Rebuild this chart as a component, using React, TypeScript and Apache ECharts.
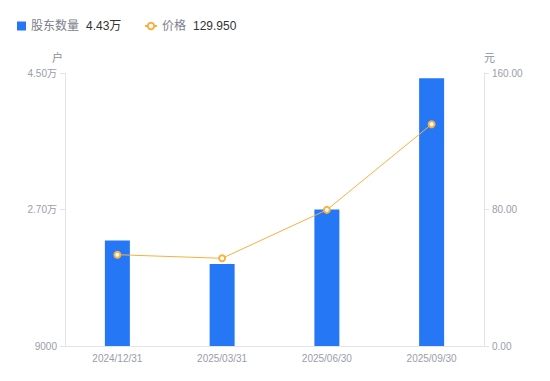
import React, { useEffect, useRef } from "react";
import * as echarts from "echarts";

const categories = ["2024/12/31", "2025/03/31", "2025/06/30", "2025/09/30"];
const holders = [22900, 19800, 27000, 44300];
const prices = [53.5, 51.4, 79.8, 129.95];
const leftTicks = [9000, 27000, 45000];
const rightTicks = [0, 80, 160];

const FONT = "'Liberation Sans', 'Noto Sans CJK SC', sans-serif";

function fmtHolders(v: number): string {
  if (v >= 10000) return (v / 10000).toFixed(2) + "万";
  return String(v);
}

export default function App() {
  const ref = useRef<HTMLDivElement>(null);
  useEffect(() => {
    if (!ref.current) return;
    const chart = echarts.init(ref.current, undefined, { renderer: "svg" });
    const labelColor = "#9a9daa";
    const axisLineColor = "#e3e4e8";
    const richLegend = {
      n: { color: "#7b7e8a", fontSize: 12, fontFamily: FONT },
      v: { color: "#333333", fontSize: 12, fontFamily: FONT, padding: [0, 0, 0, 7] },
    };
    chart.setOption({
      animation: false,
      textStyle: { fontFamily: FONT },
      legend: [
        {
          left: 12,
          top: 15,
          icon: "rect",
          itemWidth: 9,
          itemHeight: 9,
          itemGap: 6,
          data: ["股东数量"],
          formatter: () => "{n|股东数量}{v|" + fmtHolders(holders[holders.length - 1]) + "}",
          textStyle: { rich: richLegend },
        },
        {
          left: 139,
          top: 15,
          itemWidth: 12,
          itemHeight: 8,
          itemGap: 6,
          data: ["价格"],
          formatter: () => "{n|价格}{v|" + prices[prices.length - 1].toFixed(3) + "}",
          textStyle: { rich: richLegend },
        },
      ],
      grid: { left: 65, right: 66, top: 73, bottom: 35 },
      xAxis: {
        type: "category",
        data: categories,
        axisLine: { lineStyle: { color: axisLineColor } },
        axisTick: { show: false },
        axisLabel: { color: labelColor, fontSize: 10, margin: 7, fontFamily: FONT },
      },
      yAxis: [
        {
          type: "value",
          name: "户",
          nameGap: 10,
          nameTextStyle: { color: "#8c8f9b", fontSize: 11, align: "right", padding: [0, 2, 0, 0], fontFamily: FONT },
          min: leftTicks[0],
          max: leftTicks[leftTicks.length - 1],
          splitLine: { show: false },
          axisLine: { show: true, lineStyle: { color: axisLineColor } },
          axisTick: { show: true, length: 5, customValues: leftTicks, lineStyle: { color: axisLineColor } },
          axisLabel: { color: labelColor, fontSize: 10, margin: 8, customValues: leftTicks, fontFamily: FONT, formatter: (v: number) => fmtHolders(v) },
        },
        {
          type: "value",
          name: "元",
          nameGap: 10,
          nameTextStyle: { color: "#8c8f9b", fontSize: 11, align: "left", fontFamily: FONT },
          min: rightTicks[0],
          max: rightTicks[rightTicks.length - 1],
          interval: 80,
          splitLine: { show: false },
          axisLine: { show: true, lineStyle: { color: axisLineColor } },
          axisTick: { show: true, length: 5, lineStyle: { color: axisLineColor } },
          axisLabel: { color: labelColor, fontSize: 10, margin: 8, fontFamily: FONT, formatter: (v: number) => v.toFixed(2) },
        },
      ],
      series: [
        {
          name: "股东数量",
          type: "bar",
          yAxisIndex: 0,
          barWidth: 25,
          data: holders,
          itemStyle: { color: "#2577f6" },
        },
        {
          name: "价格",
          type: "line",
          yAxisIndex: 1,
          data: prices,
          symbol: "circle",
          symbolSize: 6,
          lineStyle: { color: "#f8b03e", width: 1 },
          itemStyle: { color: "#ffffff", borderColor: "#f8b03e", borderWidth: 2 },
        },
      ],
    });
    return () => chart.dispose();
  }, []);
  return <div ref={ref} style={{ width: 550, height: 381, marginLeft: -8, marginTop: -8 }} />;
}
